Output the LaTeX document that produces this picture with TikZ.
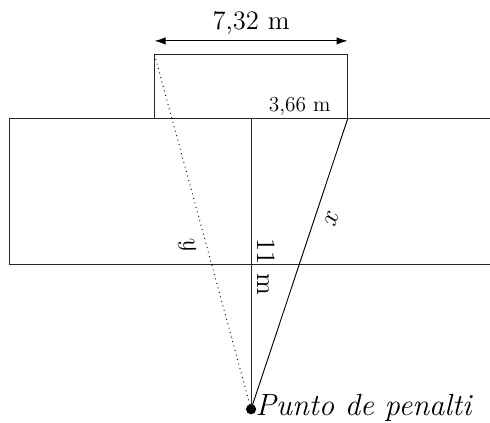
\documentclass[tikz,border=0pt]{standalone}
\usepackage{tikz}
\usetikzlibrary{arrows.meta, calc}
\tikzset{
  fieldline/.style={   % area and goal outlines
    draw=black!85, line width=0.5pt
  },
  shotline/.style={    % straight shot line to the post
    draw=black, line width=0.5pt
  },
  sightline/.style={   % dotted line to the crossbar corner
    draw=black, line width=0.5pt, dotted
  },
  dimarr/.style={{Latex[length=6pt, width=4pt]}-{Latex[length=6pt, width=4pt]},
    line width=0.6pt, color=black
  },
  biglbl/.style={font=\Large, inner sep=3pt},
  varlbl/.style={font=\Large, inner sep=5.5pt},
  smalllbl/.style={font=\fontsize{11.5}{14}\selectfont, inner sep=2pt},
  penpoint/.style={circle, fill=black, inner sep=0pt, minimum size=5.5pt},
}
\begin{document}
\begin{tikzpicture}[x=0.5cm, y=0.5cm]
\useasboundingbox (-9.51,-0.52) rectangle (9.05,15.50);

%% --- key points (metres) ------------------------------------------------------
\coordinate (postL) at (-3.66, 11);
\coordinate (postR) at ( 3.66, 11);
\coordinate (barL)  at (-3.66, 13.44);
\coordinate (barR)  at ( 3.66, 13.44);
\coordinate (goalM) at ( 0,    11);
\coordinate (areaA) at (-9.16, 5.5);
\coordinate (areaB) at ( 9.16, 11);
\coordinate (dimL)  at (-3.66, 13.95);
\coordinate (dimR)  at ( 3.66, 13.95);

%% --- goal area and goal -------------------------------------------------------
\draw[fieldline] (areaA) rectangle (areaB);
\draw[fieldline] (postL) rectangle (barR);

% width of the goal
\draw[dimarr] (dimL) -- node[biglbl, above] {7,32 m} (dimR);

% half width label, tucked into the goal corner
\node[smalllbl, anchor=south east] (half) at ($(postR) + (-0.5, -0.02)$) {3,66 m};

%% --- penalty spot -------------------------------------------------------------
\node[penpoint] (pen) at (0, 0) {};
\node[font=\fontsize{16.5}{20}\selectfont\itshape, anchor=west, inner sep=2pt] (penlbl)
  at ($(pen) + (0.02, 0.06)$) {Punto de penalti};

%% --- lines from the spot ------------------------------------------------------
\draw[fieldline] (goalM) -- node[biglbl, pos=0.51, anchor=south, rotate=-90] {11 m} (pen.center);
\draw[shotline]  (pen.center) -- node[varlbl, pos=0.675, sloped, below] {$x$} (postR);
\draw[sightline] (pen.center) -- node[varlbl, pos=0.473, sloped, below] {$y$} (barL);

\end{tikzpicture}
\end{document}
